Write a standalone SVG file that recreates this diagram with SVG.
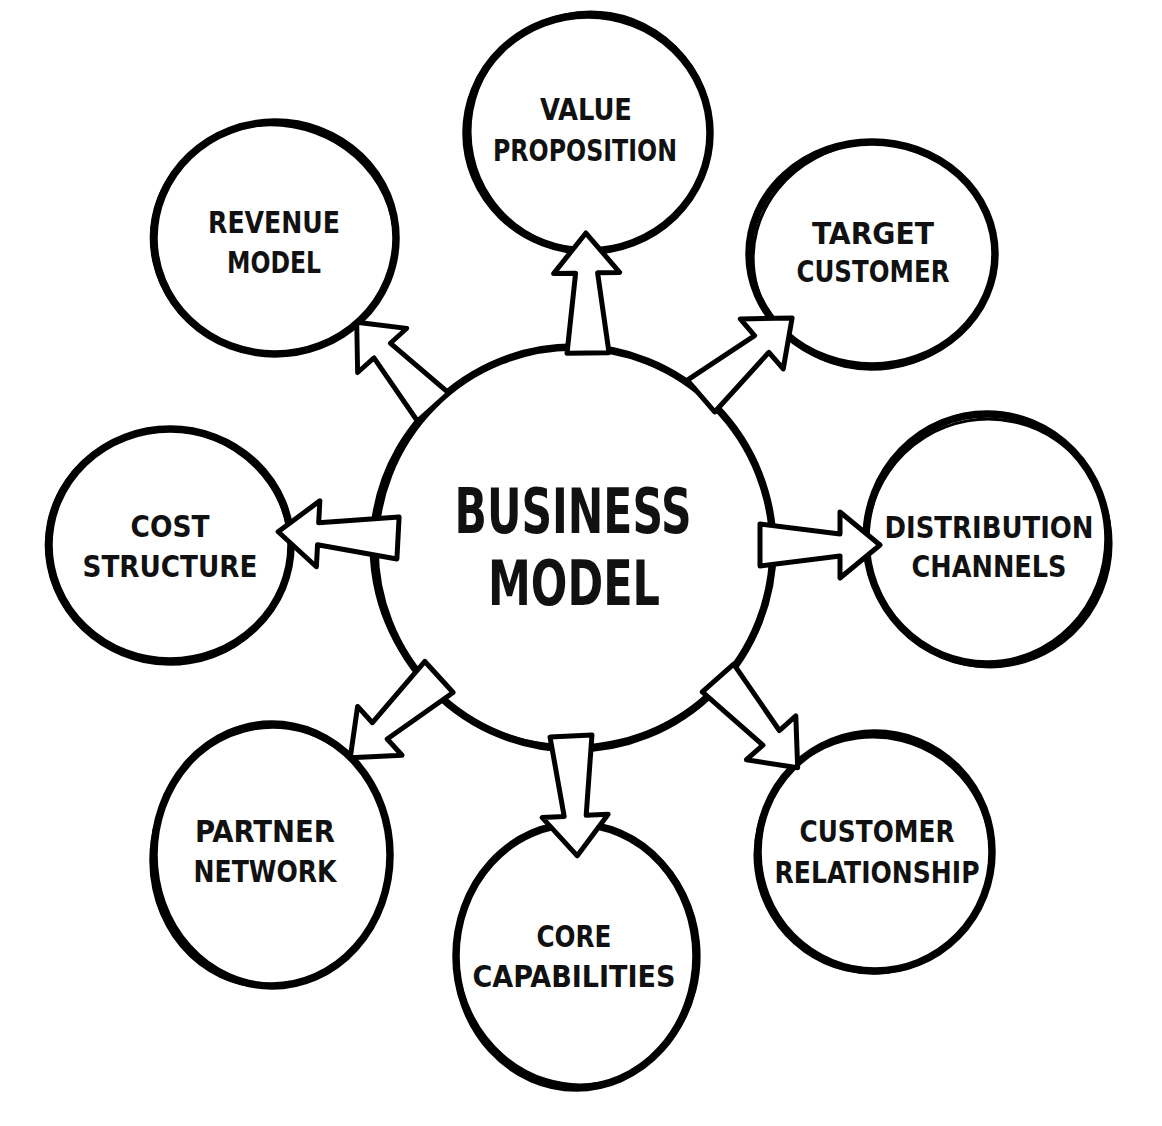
<svg xmlns="http://www.w3.org/2000/svg" xmlns:xlink="http://www.w3.org/1999/xlink" width="1162" height="1126" viewBox="0 0 1162 1126">
<style>
.c1{fill:#fff;stroke:#000;stroke-width:7.5}
.c2{fill:none;stroke:#000;stroke-width:3}
.lbl{font-family:"Liberation Sans Narrow","DejaVu Sans Condensed","Liberation Sans",sans-serif;font-weight:bold;font-size:31px;fill:#111;text-anchor:middle}
.big{font-size:62px}
.arr{fill:#fff;stroke:#000;stroke-width:5;stroke-linejoin:round}
</style>
<defs>
<path id="ar" d="M0,-21 L80,-11 L80,-33 L120,0 L80,33 L80,11 L0,21 Z"/>
</defs>
<rect width="1162" height="1126" fill="#fff"/>
<g id="center">
<ellipse class="c1" cx="574" cy="548" rx="199" ry="201" stroke-width="9"/>
<ellipse class="c2" cx="572" cy="547" rx="201" ry="199" transform="rotate(8 572 547)"/>
<text class="lbl big" x="573" y="533" textLength="237" lengthAdjust="spacingAndGlyphs">BUSINESS</text>
<text class="lbl big" x="574" y="605" textLength="172" lengthAdjust="spacingAndGlyphs">MODEL</text>
</g>
<g id="value-proposition">
<ellipse class="c1" cx="588" cy="133" rx="122" ry="118"/>
<ellipse class="c2" cx="590" cy="131" rx="120" ry="119" transform="rotate(-12 590 131)"/>
<text class="lbl" x="586" y="120" textLength="92" lengthAdjust="spacingAndGlyphs">VALUE</text>
<text class="lbl" x="585" y="161" textLength="184" lengthAdjust="spacingAndGlyphs">PROPOSITION</text>
</g>
<g id="revenue-model">
<ellipse class="c1" cx="275" cy="238" rx="121" ry="116"/>
<ellipse class="c2" cx="273" cy="240" rx="122" ry="115" transform="rotate(10 273 240)"/>
<text class="lbl" x="274" y="233" textLength="132" lengthAdjust="spacingAndGlyphs">REVENUE</text>
<text class="lbl" x="274" y="273" textLength="94" lengthAdjust="spacingAndGlyphs">MODEL</text>
</g>
<g id="target-customer">
<ellipse class="c1" cx="872" cy="254" rx="123" ry="112"/>
<ellipse class="c2" cx="874" cy="256" rx="121" ry="113" transform="rotate(-8 874 256)"/>
<text class="lbl" x="873" y="244" textLength="122" lengthAdjust="spacingAndGlyphs">TARGET</text>
<text class="lbl" x="873" y="282" textLength="153" lengthAdjust="spacingAndGlyphs">CUSTOMER</text>
</g>
<g id="cost-structure">
<ellipse class="c1" cx="170" cy="545" rx="121" ry="116"/>
<ellipse class="c2" cx="168" cy="547" rx="122" ry="117" transform="rotate(12 168 547)"/>
<text class="lbl" x="170" y="537" textLength="79" lengthAdjust="spacingAndGlyphs">COST</text>
<text class="lbl" x="170" y="577" textLength="175" lengthAdjust="spacingAndGlyphs">STRUCTURE</text>
</g>
<g id="distribution-channels">
<ellipse class="c1" cx="987" cy="539" rx="121" ry="125"/>
<ellipse class="c2" cx="989" cy="543" rx="122" ry="124" transform="rotate(-10 989 543)"/>
<text class="lbl" x="989" y="538" textLength="209" lengthAdjust="spacingAndGlyphs">DISTRIBUTION</text>
<text class="lbl" x="989" y="577" textLength="155" lengthAdjust="spacingAndGlyphs">CHANNELS</text>
</g>
<g id="partner-network">
<ellipse class="c1" cx="272" cy="855" rx="118" ry="131"/>
<ellipse class="c2" cx="270" cy="857" rx="119" ry="130" transform="rotate(8 270 857)"/>
<text class="lbl" x="265" y="842" textLength="140" lengthAdjust="spacingAndGlyphs">PARTNER</text>
<text class="lbl" x="265" y="882" textLength="143" lengthAdjust="spacingAndGlyphs">NETWORK</text>
</g>
<g id="core-capabilities">
<ellipse class="c1" cx="576" cy="956" rx="120" ry="132"/>
<ellipse class="c2" cx="578" cy="954" rx="121" ry="131" transform="rotate(-6 578 954)"/>
<text class="lbl" x="574" y="947" textLength="75" lengthAdjust="spacingAndGlyphs">CORE</text>
<text class="lbl" x="574" y="987" textLength="203" lengthAdjust="spacingAndGlyphs">CAPABILITIES</text>
</g>
<g id="customer-relationship">
<ellipse class="c1" cx="875" cy="852" rx="117" ry="119"/>
<ellipse class="c2" cx="873" cy="855" rx="118" ry="118" transform="rotate(14 873 855)"/>
<text class="lbl" x="877" y="842" textLength="155" lengthAdjust="spacingAndGlyphs">CUSTOMER</text>
<text class="lbl" x="877" y="883" textLength="205" lengthAdjust="spacingAndGlyphs">RELATIONSHIP</text>
</g>
<g id="connectors">
<use class="arr" xlink:href="#ar" href="#ar" transform="translate(588,353) rotate(-91)"/>
<use class="arr" xlink:href="#ar" href="#ar" transform="translate(701,396) rotate(-40.6)"/>
<use class="arr" xlink:href="#ar" href="#ar" transform="translate(760,545)"/>
<use class="arr" xlink:href="#ar" href="#ar" transform="translate(433,407) rotate(-132) scale(0.95,1)"/>
<use class="arr" xlink:href="#ar" href="#ar" transform="translate(398,538) rotate(183)"/>
<use class="arr" xlink:href="#ar" href="#ar" transform="translate(439,677) rotate(137.7)"/>
<use class="arr" xlink:href="#ar" href="#ar" transform="translate(571,736) rotate(87)"/>
<use class="arr" xlink:href="#ar" href="#ar" transform="translate(718,678) rotate(48.4)"/>
</g>
</svg>
